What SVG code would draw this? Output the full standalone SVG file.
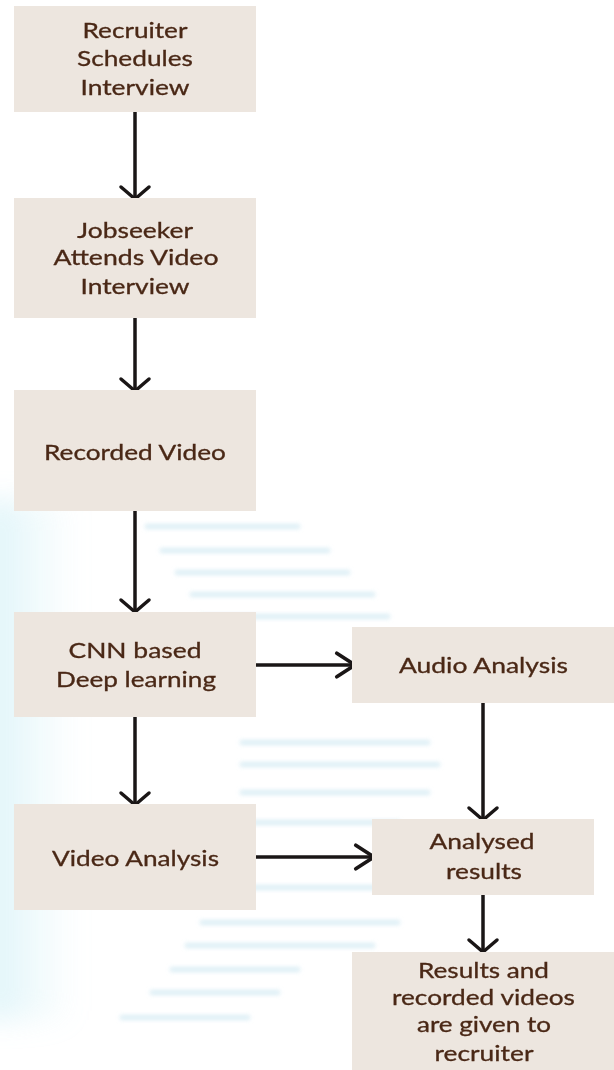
<svg xmlns="http://www.w3.org/2000/svg" width="614" height="1070" viewBox="0 0 614 1070">
  <style>
    .box { fill: #ede6df; }
    .lbl { font-family: Lato, "Liberation Sans", sans-serif; font-size: 21px; fill: #4a2816; stroke: #4a2816; stroke-width: 0.3; text-anchor: middle; }
    .conn { stroke: #1a1616; stroke-width: 3.5; fill: none; }
    .wm { fill: #c4e3ef; }
  </style>
  <defs>
    <marker id="arrV" markerUnits="userSpaceOnUse" orient="auto" markerWidth="30" markerHeight="34" viewBox="-16 -17 20 34" refX="0" refY="0" overflow="visible">
      <path d="M-12,-14 L0,0 L-12,14" fill="none" stroke="#1a1616" stroke-width="3.5" stroke-linecap="round" stroke-linejoin="round"/>
    </marker>
    <marker id="arrH" markerUnits="userSpaceOnUse" orient="auto" markerWidth="30" markerHeight="30" viewBox="-20 -14 24 28" refX="0" refY="0" overflow="visible">
      <path d="M-17,-11 L0,0 L-17,11" fill="none" stroke="#1a1616" stroke-width="3.5" stroke-linecap="round" stroke-linejoin="round"/>
    </marker>
    <linearGradient id="wmg" x1="0" x2="1" y1="0" y2="0">
      <stop offset="0" stop-color="#bfeaf3" stop-opacity="0.9"/>
      <stop offset="1" stop-color="#bfeaf3" stop-opacity="0"/>
    </linearGradient>
    <filter id="blurBig" x="-50%" y="-20%" width="200%" height="140%">
      <feGaussianBlur stdDeviation="14"/>
    </filter>
    <filter id="blurSm" x="-10%" y="-100%" width="120%" height="300%">
      <feGaussianBlur stdDeviation="2.2"/>
    </filter>
  </defs>
  <rect width="614" height="1070" fill="#ffffff"/>

  <g id="watermark" opacity="0.6">
    <rect x="-20" y="500" width="95" height="520" fill="url(#wmg)" filter="url(#blurBig)"/>
    <g filter="url(#blurSm)">
      <rect x="145" y="524" width="155" height="5" class="wm"/>
      <rect x="160" y="548" width="170" height="5" class="wm"/>
      <rect x="175" y="570" width="175" height="5" class="wm"/>
      <rect x="190" y="592" width="185" height="5" class="wm"/>
      <rect x="200" y="614" width="190" height="5" class="wm"/>
      <rect x="240" y="740" width="190" height="5" class="wm"/>
      <rect x="240" y="762" width="200" height="5" class="wm"/>
      <rect x="240" y="790" width="190" height="5" class="wm"/>
      <rect x="240" y="820" width="160" height="5" class="wm"/>
      <rect x="240" y="885" width="140" height="5" class="wm"/>
      <rect x="200" y="920" width="200" height="5" class="wm"/>
      <rect x="185" y="943" width="190" height="5" class="wm"/>
      <rect x="170" y="967" width="130" height="5" class="wm"/>
      <rect x="150" y="990" width="130" height="5" class="wm"/>
      <rect x="120" y="1015" width="130" height="5" class="wm"/>
    </g>
  </g>

  <g id="connectors">
    <line class="conn" x1="135" y1="112" x2="135" y2="199" marker-end="url(#arrV)"/>
    <line class="conn" x1="135" y1="318" x2="135" y2="391" marker-end="url(#arrV)"/>
    <line class="conn" x1="135" y1="511" x2="135" y2="612" marker-end="url(#arrV)"/>
    <line class="conn" x1="135" y1="717" x2="135" y2="805" marker-end="url(#arrV)"/>
    <line class="conn" x1="253" y1="665" x2="355" y2="665" marker-end="url(#arrH)"/>
    <line class="conn" x1="253" y1="857" x2="374" y2="857" marker-end="url(#arrH)"/>
    <line class="conn" x1="483" y1="703" x2="483" y2="820" marker-end="url(#arrV)"/>
    <line class="conn" x1="483" y1="895" x2="483" y2="952" marker-end="url(#arrV)"/>
  </g>

  <g id="n1">
    <rect class="box" x="14" y="6" width="242" height="106"/>
    <text class="lbl" x="135" y="38" textLength="105" lengthAdjust="spacingAndGlyphs">Recruiter</text>
    <text class="lbl" x="135" y="65.5" textLength="116" lengthAdjust="spacingAndGlyphs">Schedules</text>
    <text class="lbl" x="135" y="95" textLength="109" lengthAdjust="spacingAndGlyphs">Interview</text>
  </g>
  <g id="n2">
    <rect class="box" x="14" y="198" width="242" height="120"/>
    <text class="lbl" x="135" y="237.5" textLength="116" lengthAdjust="spacingAndGlyphs">Jobseeker</text>
    <text class="lbl" x="136" y="265" textLength="165" lengthAdjust="spacingAndGlyphs">Attends Video</text>
    <text class="lbl" x="135" y="294" textLength="109" lengthAdjust="spacingAndGlyphs">Interview</text>
  </g>
  <g id="n3">
    <rect class="box" x="14" y="390" width="242" height="121"/>
    <text class="lbl" x="135" y="460" textLength="182" lengthAdjust="spacingAndGlyphs">Recorded Video</text>
  </g>
  <g id="n4">
    <rect class="box" x="14" y="612" width="242" height="105"/>
    <text class="lbl" x="135" y="657.5" textLength="133" lengthAdjust="spacingAndGlyphs">CNN based</text>
    <text class="lbl" x="136" y="686.5" textLength="160" lengthAdjust="spacingAndGlyphs">Deep learning</text>
  </g>
  <g id="n5">
    <rect class="box" x="352" y="627" width="262" height="76"/>
    <text class="lbl" x="483.5" y="673.3" textLength="169" lengthAdjust="spacingAndGlyphs">Audio Analysis</text>
  </g>
  <g id="n6">
    <rect class="box" x="14" y="804" width="242" height="106"/>
    <text class="lbl" x="135.5" y="865.7" textLength="167" lengthAdjust="spacingAndGlyphs">Video Analysis</text>
  </g>
  <g id="n7">
    <rect class="box" x="372" y="819" width="222" height="76"/>
    <text class="lbl" x="482" y="849.3" textLength="105" lengthAdjust="spacingAndGlyphs">Analysed</text>
    <text class="lbl" x="484" y="879" textLength="76" lengthAdjust="spacingAndGlyphs">results</text>
  </g>
  <g id="n8">
    <rect class="box" x="352" y="952" width="262" height="118"/>
    <text class="lbl" x="483.5" y="978.3" textLength="131" lengthAdjust="spacingAndGlyphs">Results and</text>
    <text class="lbl" x="483.5" y="1005" textLength="183" lengthAdjust="spacingAndGlyphs">recorded videos</text>
    <text class="lbl" x="484" y="1031.7" textLength="134" lengthAdjust="spacingAndGlyphs">are given to</text>
    <text class="lbl" x="484" y="1060.7" textLength="99" lengthAdjust="spacingAndGlyphs">recruiter</text>
  </g>
</svg>
